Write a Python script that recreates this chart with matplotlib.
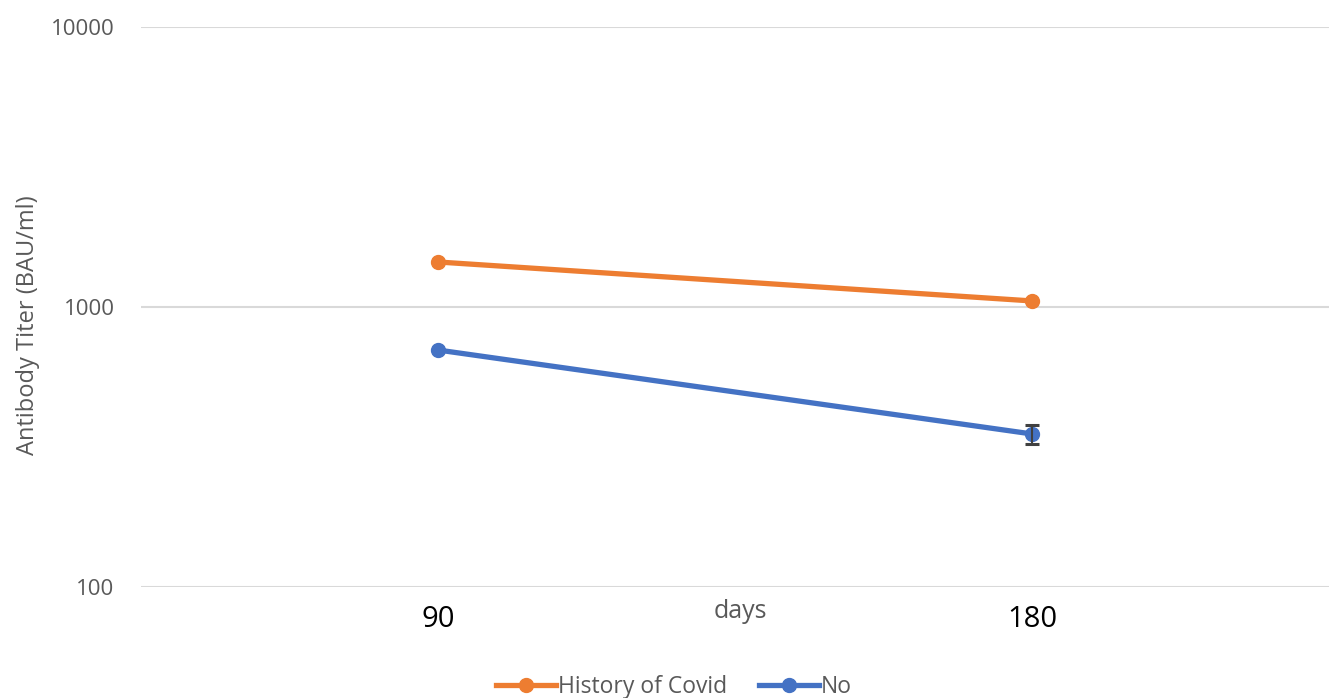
import matplotlib
matplotlib.use("Agg")
import matplotlib.pyplot as plt
import numpy as np

categories = ["90", "180"]
covid = [1448, 1051]
no_covid = [702, 352]
no_covid_err = [0, 28]

plt.rcParams['font.family'] = ['Open Sans', 'DejaVu Sans']

fig = plt.figure(figsize=(13.29, 6.98), dpi=100)
ax = fig.add_axes([141/1329, 1-587/698, 1-141/1329, (587-27)/698])

x = np.arange(len(categories))
orange = '#ED7D31'
blue = '#4472C4'

ax.plot(x, covid, color=orange, lw=3.8, marker='o', ms=10, zorder=3, label='History of Covid')
ax.plot(x, no_covid, color=blue, lw=3.8, marker='o', ms=10, zorder=3, label='No')
ax.errorbar(x, no_covid, yerr=no_covid_err, fmt='none', errorevery=(1, 1),
            ecolor='#404040', elinewidth=1.5, capsize=5, capthick=2.2, zorder=4)

ax.set_yscale('log')
ax.set_ylim(100, 10000)
ax.set_xlim(-0.5, 1.5)
ax.set_yticks([100, 1000, 10000])
ax.set_yticklabels(['100', '1000', '10000'])
ax.yaxis.set_minor_locator(matplotlib.ticker.NullLocator())
ax.set_xticks(x)
ax.set_xticklabels(categories, fontsize=21, color='black')
ax.tick_params(axis='y', length=0, labelsize=16, labelcolor='#595959', pad=19)
ax.tick_params(axis='x', length=0, pad=13)
ax.grid(axis='y', color='#d9d9d9', lw=1.5)
ax.set_axisbelow(True)
for s in ax.spines.values():
    s.set_visible(False)

ax.set_ylabel('Antibody Titer (BAU/ml)', fontsize=17, color='#595959', labelpad=8)
ax.yaxis.set_label_coords(-101/1188, 0.5 - (325 - 307) / 560)
fig.text(740/1329, 1-612/698, 'days', fontsize=18, color='#595959', ha='center', va='center')

leg = fig.legend(loc='center', bbox_to_anchor=(674/1329, 1-687/698), ncol=2, frameon=False,
                 fontsize=16.5, labelcolor='#595959', handlelength=2.6, columnspacing=1.4,
                 handletextpad=0.1)
fig.savefig('out.png', dpi=100)
